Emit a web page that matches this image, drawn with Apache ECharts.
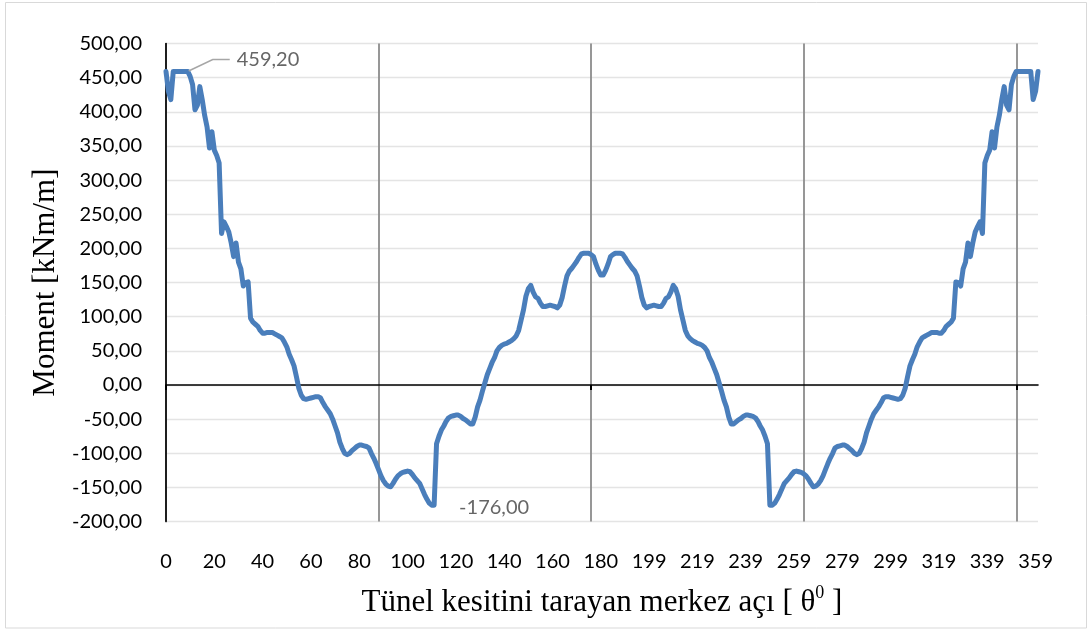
<!DOCTYPE html>
<html>
<head>
<meta charset="utf-8">
<script src="https://cdn.jsdelivr.net/npm/echarts@6/dist/echarts.min.js"></script>
<style>
  html, body { margin: 0; padding: 0; background: #ffffff; }
  #chart { width: 1091px; height: 631px; }
</style>
</head>
<body>
<div id="chart"></div>
<script>
// Central angle of the tunnel section: 0..180 followed by 180..360 (two half-rings)
const angleDeg = [];
for (let a = 0; a <= 180; a++) angleDeg.push(a);
for (let a = 180; a <= 360; a++) angleDeg.push(a);

// Bending moment [kNm/m], half-ring 0..180
const momentLeft = [
  459.2, 430, 418, 459.2, 459.2, 459.2, 459.2, 459.2, 459.2, 459.2,
  452, 440, 403, 410, 437, 418, 395, 378, 347, 371,
  344, 336, 325, 222, 239, 232, 224, 208, 188, 208,
  180, 170, 145, 150, 151, 98, 92, 89, 86, 80,
  76, 76, 77, 77, 77, 75, 73, 71, 69, 63,
  56, 45, 37, 28, 12, -5, -15, -20, -21, -20,
  -19, -18, -17, -17, -19, -26, -32, -37, -42, -50,
  -60, -70, -84, -93, -100, -102, -100, -96, -93, -90,
  -88, -88, -89, -90, -92, -100, -107, -115, -124, -133,
  -140, -145, -148, -149, -144, -138, -133, -130, -128, -127,
  -126, -127, -131, -136, -140, -144, -152, -160, -167, -173,
  -176, -176, -86, -75, -66, -60, -53, -48, -46, -45,
  -44, -44, -46, -49, -51, -54, -57, -57, -47, -32,
  -22, -9, 3, 15, 24, 33, 40, 50, 55, 58,
  60, 61, 63, 65, 68, 72, 80, 95, 110, 130,
  141, 146, 136, 129, 127, 120, 115, 115, 116, 117,
  116, 115, 113, 117, 128, 145, 160, 167, 171, 176,
  181, 187, 192, 193, 193, 193, 191, 188, 177, 168,
  161
];

// Bending moment [kNm/m], half-ring 180..360
const momentRight = [
  161, 168, 177, 188, 191, 193, 193, 193, 192, 187,
  181, 176, 171, 167, 160, 145, 128, 117, 113, 115,
  116, 117, 116, 115, 115, 120, 127, 129, 136, 146,
  141, 130, 110, 95, 80, 72, 68, 65, 63, 61,
  60, 58, 55, 50, 40, 33, 24, 15, 3, -9,
  -22, -32, -47, -57, -57, -54, -51, -49, -46, -44,
  -44, -45, -46, -48, -53, -60, -66, -75, -86, -176,
  -176, -173, -167, -160, -152, -144, -140, -136, -131, -127,
  -126, -127, -128, -130, -133, -138, -144, -149, -148, -145,
  -140, -133, -124, -115, -107, -100, -92, -90, -89, -88,
  -88, -90, -93, -96, -100, -102, -100, -93, -84, -70,
  -60, -50, -42, -37, -32, -26, -19, -17, -17, -18,
  -19, -20, -21, -20, -15, -5, 12, 28, 37, 45,
  56, 63, 69, 71, 73, 75, 77, 77, 77, 76,
  76, 80, 86, 89, 92, 98, 151, 150, 145, 170,
  180, 208, 188, 208, 224, 232, 239, 222, 325, 336,
  344, 371, 347, 378, 395, 418, 437, 410, 403, 440,
  452, 459.2, 459.2, 459.2, 459.2, 459.2, 459.2, 459.2, 418, 430,
  459.2
];

const moment = momentLeft.concat(momentRight);

// Points carrying a value label (index into moment)
const labelledIdx = [9, 111];

const yMin = -200, yMax = 500, yStep = 50;

const fmt = v => Number(v).toFixed(2).replace('.', ',');

const LINE_BLUE = '#4a7ebb';
const sansFont = 'Lato';
const serifFont = 'Liberation Serif';

const chart = echarts.init(document.getElementById('chart'), null, { renderer: 'canvas' });

const option = {
  animation: false,
  backgroundColor: '#ffffff',
  grid: { left: 166, right: 53, top: 43.6, bottom: 109.4, containLabel: false },
  xAxis: [
    {
      type: 'category',
      data: angleDeg,
      boundaryGap: false,
      position: 'bottom',
      axisLine: { show: false, onZero: false },
      axisTick: { show: false },
      axisLabel: {
        interval: 19,
        margin: 30,
        color: '#000000',
        fontFamily: sansFont,
        fontSize: 20
      },
      splitLine: {
        show: true,
        interval: 87,
        lineStyle: { color: '#8c8c8c', width: 1.8 }
      },
      name: '{t|Tünel kesitini tarayan merkez açı [ θ}{s|0}{t| ]}',
      nameLocation: 'middle',
      nameGap: 63,
      nameTextStyle: {
        rich: {
          t: { fontFamily: serifFont, fontSize: 31, color: '#000000', lineHeight: 36 },
          s: { fontFamily: serifFont, fontSize: 18, color: '#000000', lineHeight: 16, verticalAlign: 'top' }
        }
      }
    },
    {
      // zero line with its tick marks
      type: 'category',
      data: angleDeg,
      boundaryGap: false,
      position: 'bottom',
      axisLine: { show: true, onZero: true, lineStyle: { color: '#000000', width: 1.6 } },
      axisTick: { show: true, interval: 175, length: 5, lineStyle: { color: '#000000', width: 2 } },
      axisLabel: { show: false },
      splitLine: { show: false }
    }
  ],
  yAxis: {
    type: 'value',
    min: yMin,
    max: yMax,
    interval: yStep,
    axisLine: { show: true, onZero: false, lineStyle: { color: '#000000', width: 1.6 } },
    axisTick: { show: false },
    axisLabel: {
      margin: 24,
      color: '#000000',
      fontFamily: sansFont,
      fontSize: 20,
      formatter: fmt
    },
    splitLine: { show: true, lineStyle: { color: '#e4e4e4', width: 1.4 } },
    name: 'Moment [kNm/m]',
    nameLocation: 'middle',
    nameGap: 105,
    nameTextStyle: { fontFamily: serifFont, fontSize: 31, color: '#000000' }
  },
  series: [
    {
      type: 'line',
      xAxisIndex: 0,
      data: moment,
      showSymbol: false,
      smooth: false,
      lineStyle: { color: LINE_BLUE, width: 5, join: 'round', cap: 'round' },
      itemStyle: { color: LINE_BLUE },
      z: 3
    },
    {
      type: 'scatter',
      xAxisIndex: 0,
      symbol: 'circle',
      symbolSize: 2,
      itemStyle: { color: LINE_BLUE },
      z: 4,
      data: [
        {
          value: [labelledIdx[0], moment[labelledIdx[0]]],
          label: {
            show: true,
            position: 'right',
            distance: 0,
            formatter: p => '{gap|}' + fmt(p.value[1])
          },
          labelLine: { show: true, length2: 17, lineStyle: { color: '#a6a6a6', width: 1.5 } }
        },
        {
          value: [labelledIdx[1], moment[labelledIdx[1]]],
          label: {
            show: true,
            position: 'right',
            distance: 24
          },
          labelLine: { show: false }
        }
      ],
      label: {
        color: '#404040',
        fontFamily: sansFont,
        fontSize: 20,
        formatter: p => fmt(p.value[1]),
        rich: { gap: { width: 7 } }
      },
      labelLayout: function (params) {
        if (params.dataIndex === 0) return { dx: 41, dy: -12 };
        return { dy: 2 };
      }
    }
  ],
  graphic: [
    {
      type: 'rect',
      silent: true,
      shape: { x: 5.5, y: 2.5, width: 1081, height: 625.5 },
      style: { fill: 'none', stroke: '#d9d9d9', lineWidth: 1 },
      z: -1
    }
  ]
};

chart.setOption(option);
</script>
</body>
</html>
